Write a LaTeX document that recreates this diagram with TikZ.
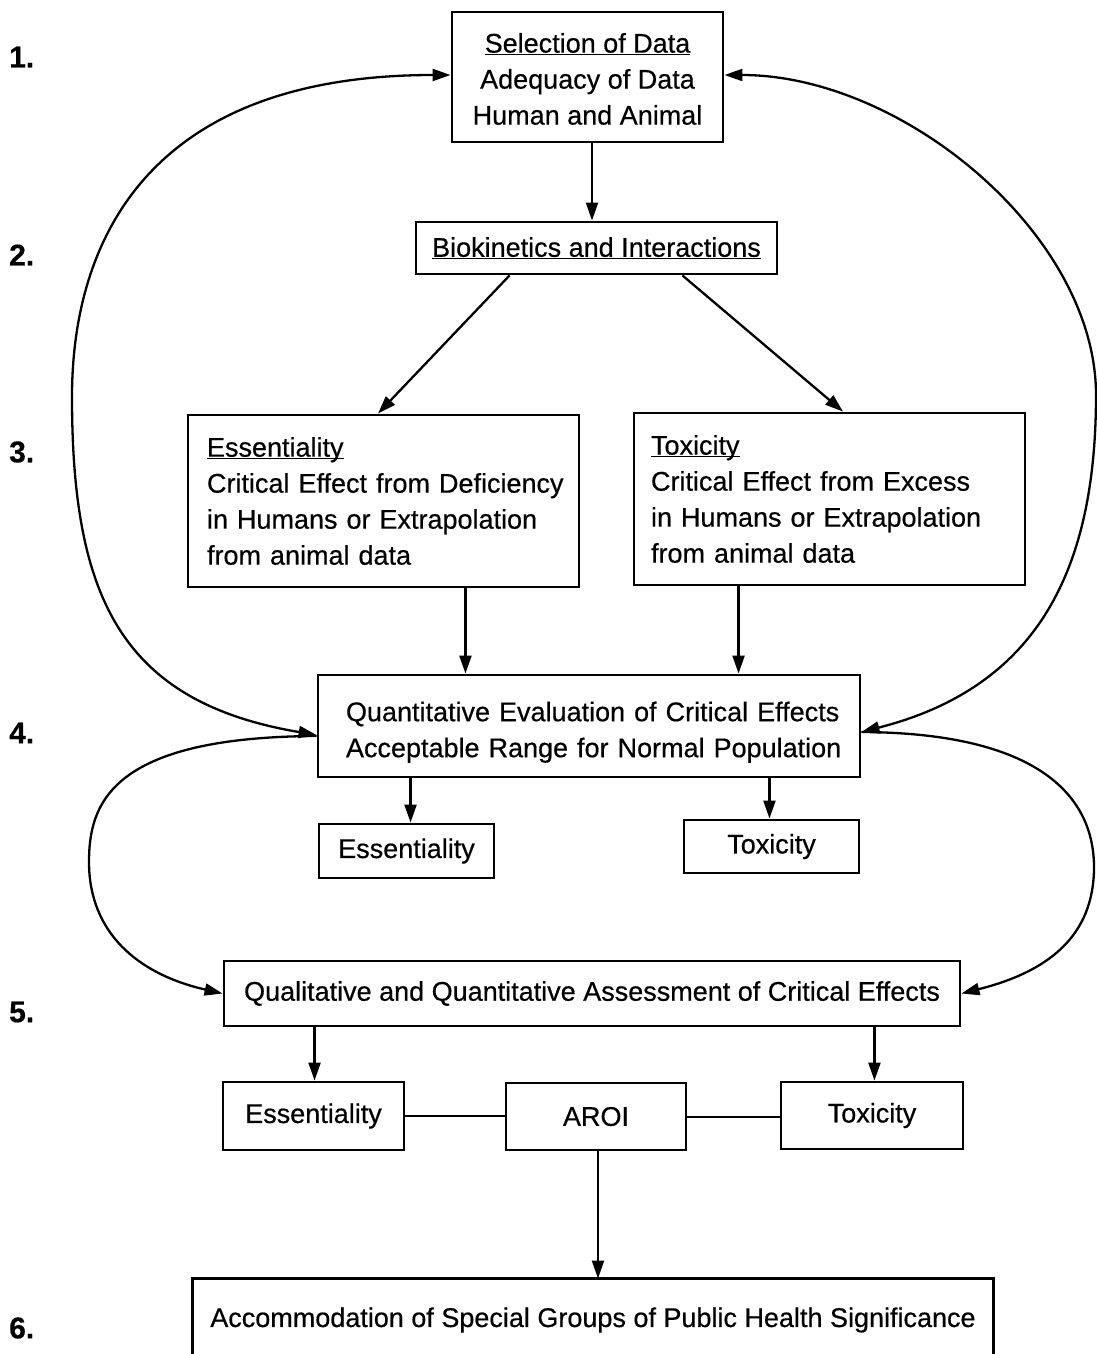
\documentclass[tikz,border=0pt]{standalone}
\usepackage{fontspec}
\setmainfont{Liberation Sans}[FakeBold=0.5]
\usetikzlibrary{arrows.meta,calc}
\newcommand\fsz{\fontsize{27}{36}\selectfont}
\newcommand\ulx[1]{\rlap{\underline{\smash{\phantom{#1}}}}#1}
\tikzset{
  box/.style={draw, line width=2.9pt, inner sep=0pt, font=\fsz, align=center},
  lbox/.style={box, align=left},
  arr/.style={line width=2.3pt, -{Triangle[length=18pt,width=12pt]}},
  darr/.style={line width=2.3pt, {Triangle[length=18pt,width=12pt]}-{Triangle[length=18pt,width=12pt]}},
  plain/.style={line width=2.3pt},
  num/.style={font=\fontsize{30}{32}\selectfont\bfseries, inner sep=0pt, anchor=west}
}
\begin{document}
\begin{tikzpicture}[x=1pt,y=-1pt]
\useasboundingbox (0,0) rectangle (1097,1354);
\clip (0,0) rectangle (1097,1354);

% step numbers
\node[num] (n1) at (9,57) {1.};
\node[num] (n2) at (9,255) {2.};
\node[num] (n3) at (9,452) {3.};
\node[num] (n4) at (9,733) {4.};
\node[num] (n5) at (9,1012) {5.};
\node[num] (n6) at (9,1328) {6.};

% boxes
\node[box, minimum width=271pt, minimum height=130pt] (top) at (587.5,77)
  {\rule{0pt}{23.5pt}\ulx{Selection of Data}\\Adequacy of Data\\Human and Animal};
\node[box, minimum width=361pt, minimum height=52pt] (bio) at (596.5,248)
  {\ulx{Biokinetics and Interactions}};
\node[lbox, inner xsep=19pt, text width=353pt, minimum height=172pt] (ess3) at (383.5,501)
  {\mbox{\ulx{Essentiality}}\\\mbox{Critical Effect from Deficiency}\\\mbox{in Humans or Extrapolation}\\\mbox{from animal data}};
\node[lbox, inner xsep=17pt, text width=357pt, minimum height=172pt] (tox3) at (829.5,499)
  {\mbox{\ulx{Toxicity}}\\\mbox{Critical Effect from Excess}\\\mbox{in Humans or Extrapolation}\\\mbox{from animal data}};
\node[lbox, inner xsep=28pt, text width=486pt, minimum height=102pt] (quant) at (589,726)
  {\mbox{\rule{0pt}{32pt}Quantitative Evaluation of Critical Effects}\\\mbox{Acceptable Range for Normal Population}};
\node[box, minimum width=175pt, minimum height=54pt] (ess4) at (406.5,851) {Essentiality};
\node[box, minimum width=175pt, minimum height=53pt] (tox4) at (771.5,846.5) {Toxicity};
\node[box, minimum width=736pt, minimum height=65pt] (qual) at (592,993.5)
  {Qualitative and Quantitative Assessment of Critical Effects};
\node[box, minimum width=181pt, minimum height=68pt] (ess5) at (313.5,1116) {Essentiality};
\node[box, minimum width=180pt, minimum height=67pt] (aroi) at (596,1116.5) {AROI};
\node[box, minimum width=182pt, minimum height=67pt] (tox5) at (872,1115.5) {Toxicity};
\node[box, draw=none, minimum width=798pt, minimum height=80pt] (acc) at (593,1320)
  {Accommodation of Special Groups of Public Health Significance};
\draw[line width=2.9pt] (acc.south west) -- (acc.north west) -- (acc.north east) -- (acc.south east);

% straight connectors
\draw[arr] ([xshift=4.5pt]top.south) -- ([xshift=4.5pt]top.south |- bio.north);
\draw[arr] ([xshift=95pt]bio.south west) -- ([xshift=-5.5pt]ess3.north);
\draw[arr] ([xshift=-96pt]bio.south east) -- ([xshift=13.5pt]tox3.north);
\draw[arr] ([xshift=-115pt]ess3.south east) -- ([xshift=-115pt]ess3.south east |- quant.north);
\draw[arr] ([xshift=106pt]tox3.south west) -- ([xshift=106pt]tox3.south west |- quant.north);
\draw[arr] ([xshift=94pt]quant.south west) -- ([xshift=94pt]quant.south west |- ess4.north);
\draw[arr] ([xshift=-92pt]quant.south east) -- ([xshift=-92pt]quant.south east |- tox4.north);
\draw[arr] ([xshift=92pt]qual.south west) -- ([xshift=92pt]qual.south west |- ess5.north);
\draw[arr] ([xshift=-87pt]qual.south east) -- ([xshift=-87pt]qual.south east |- tox5.north);
\draw[plain] (ess5.east) -- (ess5.east -| aroi.west);
\draw[plain] ([yshift=-0.5pt]aroi.east) -- ([yshift=-0.5pt]aroi.east -| tox5.west);
\draw[arr] ([xshift=2pt]aroi.south) -- ([xshift=2pt]aroi.south |- acc.north);

% feedback curves
\draw[darr] ([yshift=2pt]top.west) .. controls (100,75) and (72,301) .. (72,397)
  .. controls (72,597) and (121,702) .. ([yshift=-9pt]quant.west);
\draw[darr] ([yshift=2pt]top.east) .. controls (903,75) and (1096,235) .. (1096,395)
  .. controls (1096,575) and (1034,688) .. ([yshift=-6pt]quant.east);
\draw[arr] ([yshift=-10pt]quant.west) .. controls (109,737) and (89,805) .. (89,862)
  .. controls (89,932) and (137,974) .. (qual.west);
\draw[arr] ([yshift=-6pt]quant.east) .. controls (1060,733) and (1094,812) .. (1094,867)
  .. controls (1094,937) and (1047,972) .. (qual.east);
\end{tikzpicture}
\end{document}
